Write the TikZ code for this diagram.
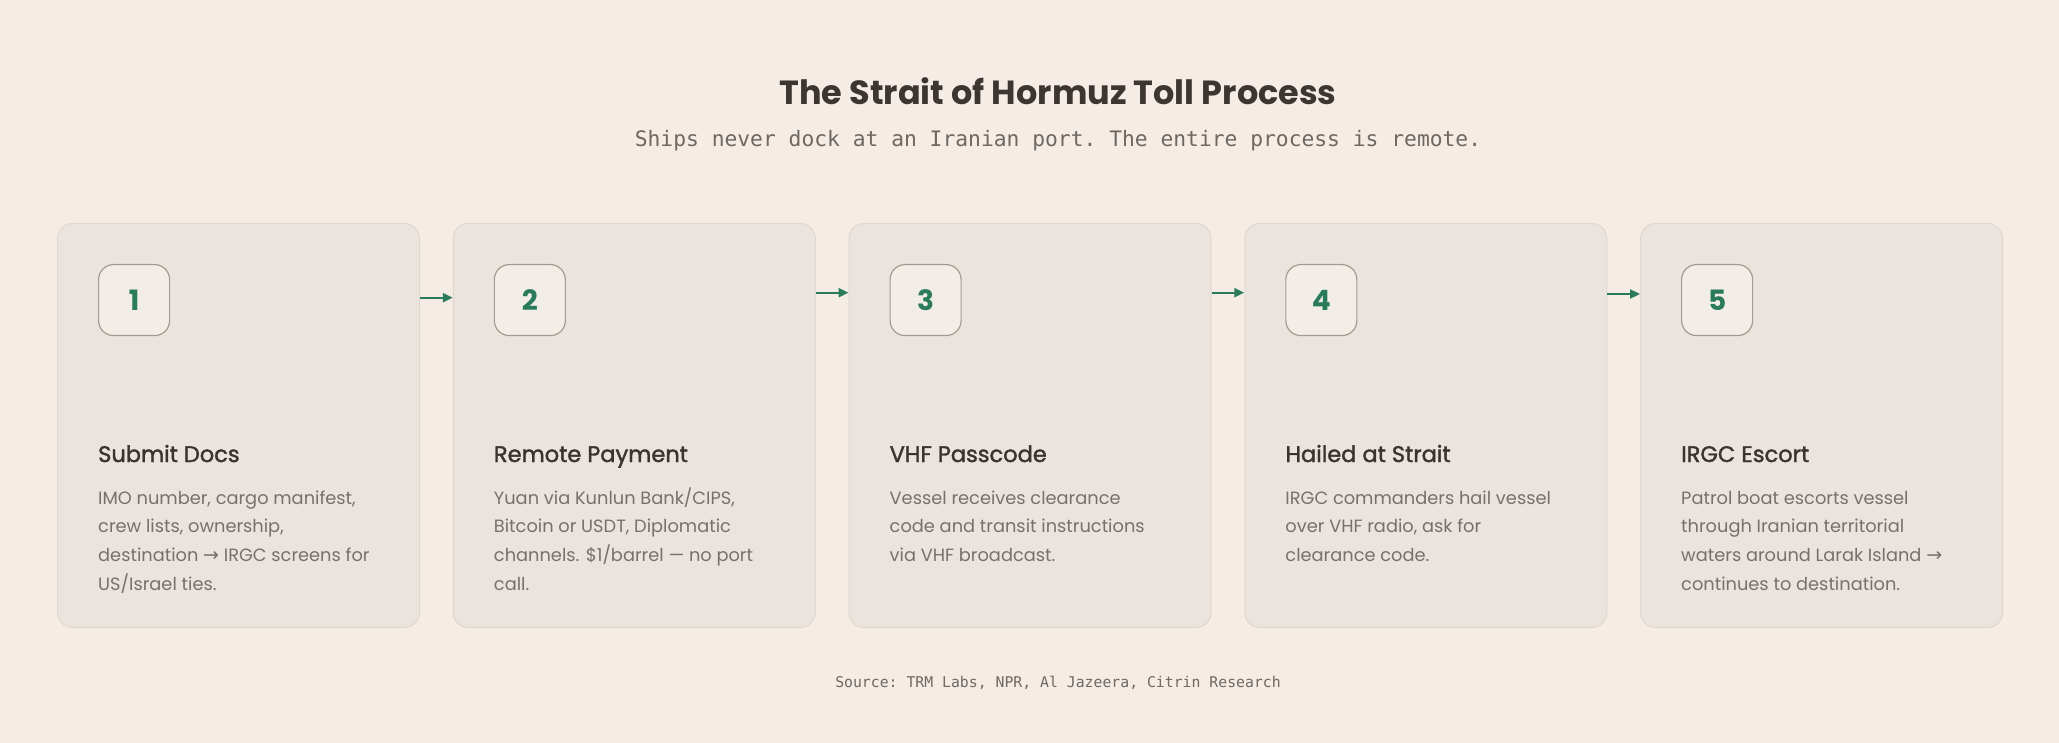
\documentclass[tikz,border=0pt]{standalone}
\usepackage{fontspec}
\setmainfont{Poppins}
\setmonofont{DejaVu Sans Mono}
\newfontfamily\arrowfont{DejaVu Sans}
\newfontfamily\headfont{Poppins}[FakeBold=1.6]
\usetikzlibrary{arrows.meta}
\definecolor{bgc}{HTML}{F4ECE5}
\definecolor{cardfill}{HTML}{EBE4DE}
\definecolor{cardline}{HTML}{E0D8CF}
\definecolor{numfill}{HTML}{F3EDE7}
\definecolor{numline}{HTML}{A69A8F}
\definecolor{greenc}{HTML}{2A7A5C}
\definecolor{titlec}{HTML}{3D3531}
\definecolor{subc}{HTML}{6F6761}
\definecolor{headc}{HTML}{3B332E}
\definecolor{bodyc}{HTML}{787069}
\newcommand{\rarr}{{\arrowfont\fontsize{19}{19}\selectfont →}}
\tikzset{
  cardbox/.style={draw=cardline, line width=1pt, fill=cardfill, rounded corners=15pt,
    minimum width=362pt, minimum height=404pt, inner sep=0pt, anchor=north west},
  numbox/.style={draw=numline, line width=1.2pt, fill=numfill, rounded corners=15pt,
    minimum width=71pt, minimum height=71pt, inner sep=0pt, anchor=north west,
    font=\fontsize{28}{28}\selectfont\bfseries, text=greenc},
  headtext/.style={anchor=base west, inner sep=0pt, text=headc,
    font=\fontsize{22.5}{22.5}\selectfont\headfont},
  bodytext/.style={anchor=base west, inner sep=0pt, text=bodyc,
    font=\fontsize{17.8}{28.7}\selectfont},
  flowarrow/.style={draw=greenc, line width=2.2pt, -{Stealth[length=10pt,width=9pt,inset=0pt]}},
}
\begin{document}
\begin{tikzpicture}[x=1pt,y=-1pt]
\fill[bgc] (0,0) rectangle (2059,743);
\useasboundingbox (0,0) rectangle (2059,743);
\node[anchor=base, inner sep=0pt, text=titlec, font=\fontsize{33.5}{33.5}\selectfont\bfseries] (title) at (1058,105) {The Strait of Hormuz Toll Process};
\node[anchor=base, inner sep=0pt, text=subc, font=\fontsize{21.3}{21.3}\selectfont\ttfamily] (subtitle) at (1058,146.7) {Ships never dock at an Iranian port. The entire process is remote.};
\node[anchor=base, inner sep=0pt, text=subc, font=\fontsize{14.8}{14.8}\selectfont\ttfamily] (source) at (1058,687) {Source: TRM Labs, NPR, Al Jazeera, Citrin Research};

\foreach \i/\xx/\num/\head/\body in {
  1/57/1/Submit Docs/{IMO number, cargo manifest,\\crew lists, ownership,\\destination \rarr{} IRGC screens for\\US/Israel ties.},
  2/452.75/2/Remote Payment/{Yuan via Kunlun Bank/CIPS,\\Bitcoin or USDT, Diplomatic\\channels. \$1/barrel — no port\\call.},
  3/848.5/3/VHF Passcode/{Vessel receives clearance\\code and transit instructions\\via VHF broadcast.},
  4/1244.25/4/Hailed at Strait/{IRGC commanders hail vessel\\over VHF radio, ask for\\clearance code.},
  5/1640/5/IRGC Escort/{Patrol boat escorts vessel\\through Iranian territorial\\waters around Larak Island \rarr\\continues to destination.}}
{
  \node[cardbox] (c\i) at (\xx,223) {};
  \node[numbox] (n\i) at (\xx+41,264) {\num};
  \node[headtext] (h\i) at (\xx+41,462) {\head};
  \node[bodytext] (b\i) at (\xx+41,504) {\parbox[t]{420pt}{\raggedright\body}};
}
\draw[flowarrow] ([yshift=-74.7pt]c1.north east) -- ([yshift=-74.7pt]c2.north west);
\draw[flowarrow] ([yshift=-69.7pt]c2.north east) -- ([yshift=-69.7pt]c3.north west);
\draw[flowarrow] ([yshift=-69.7pt]c3.north east) -- ([yshift=-69.7pt]c4.north west);
\draw[flowarrow] ([yshift=-71pt]c4.north east) -- ([yshift=-71pt]c5.north west);
\end{tikzpicture}
\end{document}
